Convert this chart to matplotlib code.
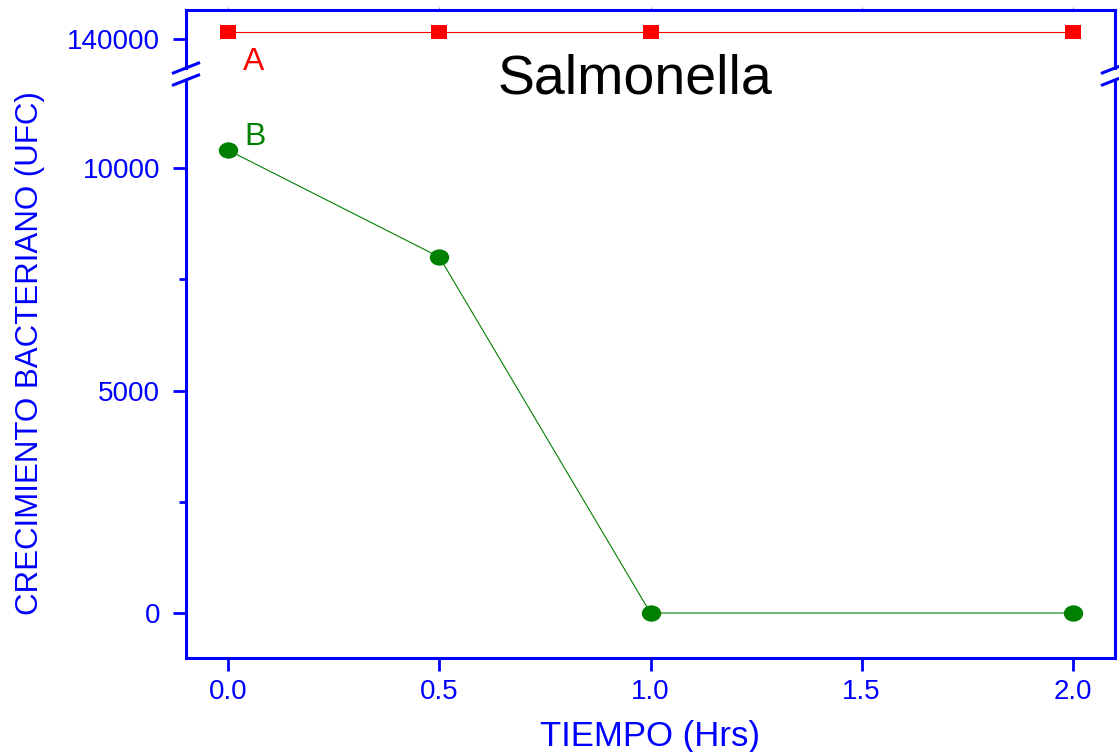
import numpy as np
import matplotlib
matplotlib.use("Agg")
import matplotlib.pyplot as plt
from matplotlib.path import Path
from matplotlib.lines import Line2D
from matplotlib.ticker import MultipleLocator, FixedLocator

plt.rcParams['font.family'] = ['Liberation Sans', 'DejaVu Sans']

# Data
tiempo_hrs = [0.0, 0.5, 1.0, 2.0]
serie_a = [140160, 140160, 140160, 140160]
serie_b = [10400, 8000, 0, 0]
etiqueta_a = "A"
etiqueta_b = "B"
titulo = "Salmonella"
x_ticks = [0.0, 0.5, 1.0, 1.5, 2.0]

BLUE = "#0000FF"
RED = "#FF0000"
GREEN = "#008000"

W, H = 1119, 752
fig = plt.figure(figsize=(W / 100, H / 100), dpi=100)

def px_rect(x0, y0, x1, y1):
    return [x0 / W, 1 - y1 / H, (x1 - x0) / W, (y1 - y0) / H]

ax_top = fig.add_axes(px_rect(186, 10, 1115, 68))
ax = fig.add_axes(px_rect(186, 80, 1115, 658))

# markers: slightly flattened square and ellipse
sq = np.array([[-1, -0.875], [1, -0.875], [1, 0.875], [-1, 0.875], [-1, -0.875]])
square_marker = Path(sq, [Path.MOVETO, Path.LINETO, Path.LINETO, Path.LINETO, Path.CLOSEPOLY])
uc = Path.unit_circle()
ellipse_marker = Path(uc.vertices * np.array([1.0, 0.84]), uc.codes)

ax_top.plot(tiempo_hrs, serie_a, color=RED, lw=0.8, marker=square_marker,
            ms=12, mec=RED, mfc=RED, mew=0, clip_on=False, zorder=3)
ax.plot(tiempo_hrs, serie_b, color=GREEN, lw=0.8, marker=ellipse_marker,
        ms=14, mec=GREEN, mfc=GREEN, mew=0, clip_on=False, zorder=3)

ax_top.annotate(etiqueta_a, xy=(tiempo_hrs[0], serie_a[0]), xytext=(15, -38),
                textcoords='offset pixels', va='baseline', ha='left',
                color=RED, fontsize=23, annotation_clip=False)
ax.annotate(etiqueta_b, xy=(tiempo_hrs[0], serie_b[0]), xytext=(16, 5),
            textcoords='offset pixels', va='baseline', ha='left',
            color=GREEN, fontsize=23, annotation_clip=False)

for a in (ax, ax_top):
    a.set_xlim(-0.1, 2.1)
    for s in a.spines.values():
        s.set_color(BLUE)
        s.set_linewidth(2.2)

ax.set_ylim(-1011, 11978)
ax_top.set_ylim(139348, 140652)

ax.spines['top'].set_visible(False)
ax_top.spines['bottom'].set_visible(False)

# bottom axes ticks
ax.xaxis.set_major_locator(FixedLocator(x_ticks))
ax.set_xticklabels([f"{v:.1f}" for v in x_ticks])
ax.yaxis.set_major_locator(MultipleLocator(5000))
ax.yaxis.set_minor_locator(MultipleLocator(2500))
ax.tick_params(axis='x', which='major', direction='out', length=9, width=2,
               colors=BLUE, labelsize=20, pad=6, top=False)
ax.tick_params(axis='y', which='major', direction='out', length=9.5, width=2,
               colors=BLUE, labelsize=20, pad=9, right=False)
ax.tick_params(axis='y', which='minor', direction='out', length=5, width=2,
               colors=BLUE, right=False)
ax.tick_params(axis='x', which='minor', bottom=False)

# top axes ticks
ax_top.yaxis.set_major_locator(FixedLocator([140000]))
ax_top.yaxis.set_minor_locator(FixedLocator([]))
ax_top.xaxis.set_major_locator(FixedLocator(x_ticks))
ax_top.tick_params(axis='y', which='major', direction='out', length=9.5, width=2,
                   colors=BLUE, labelsize=20, pad=9, right=False)
ax_top.tick_params(axis='x', which='major', bottom=False, labelbottom=False,
                   top=True, direction='out', length=2.5, width=0.6, color="#8080FF")

ax.set_xlabel("TIEMPO (Hrs)", color=BLUE, fontsize=25)
ax.xaxis.set_label_coords(0.5, -0.108)
ax.set_ylabel("CRECIMIENTO BACTERIANO (UFC)", color=BLUE, fontsize=22.5)
ax.yaxis.set_label_coords(-0.152, 0.527)

fig.text(634.5 / W, 1 - 93 / H, titulo, ha='center', va='baseline',
         fontsize=40, color='black')

# axis-break slashes on both vertical spines
for xc in (186, 1115):
    for yc in (68, 80):
        fig.add_artist(Line2D([(xc - 14) / W, (xc + 14) / W],
                              [1 - (yc + 5.5) / H, 1 - (yc - 5.5) / H],
                              color=BLUE, lw=2.2, transform=fig.transFigure,
                              solid_capstyle='butt'))

fig.savefig("out.png", dpi=100)
